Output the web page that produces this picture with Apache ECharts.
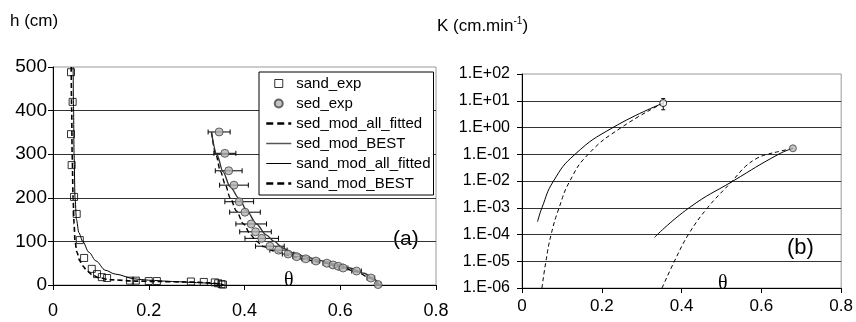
<!DOCTYPE html>
<html>
<head>
<meta charset="utf-8">
<script src="https://cdn.jsdelivr.net/npm/echarts@6/dist/echarts.min.js"></script>
<style>
html,body{margin:0;padding:0;background:#fff;}
#c{width:856px;height:322px;}
</style>
</head>
<body>
<div id="c"></div>
<script>
// ---- Panel (a): h vs theta ----
const sandTheta = [0.0376, 0.041, 0.0376, 0.039, 0.044, 0.0495, 0.056, 0.065, 0.081, 0.092, 0.102, 0.113, 0.161, 0.173, 0.200, 0.217, 0.288, 0.315, 0.338, 0.345, 0.352, 0.355];
const sandH     = [488, 420, 346, 275, 202, 163, 103, 62, 37, 25, 18, 16, 10, 10, 9, 9, 8, 7, 6, 4, 2, 1];

const sedTheta = [0.347, 0.359, 0.367, 0.378, 0.389, 0.401, 0.414, 0.423, 0.436, 0.453, 0.471, 0.491, 0.509, 0.528, 0.549, 0.572, 0.585, 0.596, 0.606, 0.634, 0.664, 0.679];
const sedH     = [351, 302, 262, 229, 191, 167, 140, 122, 107, 89, 80, 71, 65, 60, 55, 50, 46, 43, 39, 32, 16, 1];
const sedErr   = [0.023, 0.023, 0.028, 0.030, 0.030, 0.032, 0.032, 0.033, 0.035, 0.030, 0.018, 0.012, 0.008, 0.008, 0.008, 0.008, 0.008, 0.010, 0.010, 0.010, 0.008, 0.005];

const sedAllTheta  = [0.331, 0.340, 0.350, 0.360, 0.370, 0.383, 0.398, 0.413, 0.425, 0.440, 0.460, 0.490, 0.520, 0.560, 0.600, 0.635, 0.660, 0.680];
const sedAllH      = [350, 300, 260, 230, 200, 170, 140, 115, 100, 88, 78, 68, 60, 52, 42, 30, 17, 0];
const sedBestTheta = [0.331, 0.342, 0.355, 0.370, 0.389, 0.405, 0.425, 0.445, 0.462, 0.480, 0.500, 0.530, 0.560, 0.590, 0.620, 0.650, 0.670, 0.682];
const sedBestH     = [350, 300, 260, 225, 198, 170, 140, 115, 100, 85, 74, 64, 56, 48, 39, 27, 14, 0];

const sandAllTheta  = [0.042, 0.043, 0.044, 0.046, 0.049, 0.054, 0.062, 0.075, 0.090, 0.109, 0.130, 0.171, 0.200, 0.250, 0.300, 0.345, 0.358];
const sandAllH      = [500, 400, 300, 200, 150, 120, 100, 75, 55, 34, 25, 14, 11, 8, 5.5, 3, 0];
const sandBestTheta = [0.038, 0.039, 0.040, 0.042, 0.044, 0.046, 0.050, 0.056, 0.062, 0.070, 0.081, 0.095, 0.119, 0.171, 0.220, 0.280, 0.330, 0.350, 0.355];
const sandBestH     = [500, 400, 300, 200, 140, 100, 75, 55, 44, 34, 24, 17, 12, 9, 8, 7, 5, 2, 0];

const hTicks = [0, 100, 200, 300, 400, 500];
const thetaTicks = [0, 0.2, 0.4, 0.6, 0.8];

// ---- Panel (b): K vs theta ----
const kSandSolidTheta = [0.039, 0.050, 0.079, 0.133, 0.228, 0.354];
const kSandSolidK     = [3.0e-4, 1.0e-3, 1.0e-2, 1.0e-1, 1.0, 8.2];
const kSandDashTheta  = [0.050, 0.060, 0.073, 0.093, 0.120, 0.166, 0.249, 0.354];
const kSandDashK      = [1e-6, 1e-5, 1e-4, 1e-3, 1e-2, 1e-1, 1.0, 8.2];
const kSedSolidTheta  = [0.332, 0.419, 0.529, 0.643, 0.679];
const kSedSolidK      = [7.8e-5, 1.0e-3, 1.0e-2, 1.0e-1, 0.167];
const kSedDashTheta   = [0.351, 0.382, 0.417, 0.465, 0.527, 0.560, 0.589, 0.610, 0.643, 0.679];
const kSedDashK       = [1e-6, 1e-5, 1e-4, 1e-3, 1e-2, 3.5e-2, 7.1e-2, 9.5e-2, 0.126, 0.167];
const kSandEnd = [0.354, 8.2, 4.6, 12];   // theta, K, K low, K high
const kSedEnd  = [0.679, 0.167];
const kTickLabels = ['1.E-06', '1.E-05', '1.E-04', '1.E-03', '1.E-02', '1.E-01', '1.E+00', '1.E+01', '1.E+02'];

const zip = (a, b) => a.map((v, i) => [v, b[i]]);
const FONT = 'Liberation Sans, Arial, sans-serif';

function hErr(params, api) {
  const x = api.value(0), y = api.value(1), e = api.value(2);
  const p1 = api.coord([x - e, y]), p2 = api.coord([x + e, y]);
  const st = {stroke: '#000', lineWidth: 1};
  return {type: 'group', children: [
    {type: 'line', shape: {x1: p1[0], y1: p1[1], x2: p2[0], y2: p2[1]}, style: st},
    {type: 'line', shape: {x1: p1[0], y1: p1[1] - 2.5, x2: p1[0], y2: p1[1] + 2.5}, style: st},
    {type: 'line', shape: {x1: p2[0], y1: p2[1] - 2.5, x2: p2[0], y2: p2[1] + 2.5}, style: st}
  ]};
}
function vErr(params, api) {
  const x = api.value(0), lo = api.value(1), hi = api.value(2);
  const p1 = api.coord([x, lo]), p2 = api.coord([x, hi]);
  const st = {stroke: '#000', lineWidth: 1};
  return {type: 'group', children: [
    {type: 'line', shape: {x1: p1[0], y1: p1[1], x2: p2[0], y2: p2[1]}, style: st},
    {type: 'line', shape: {x1: p1[0] - 2, y1: p1[1], x2: p1[0] + 2, y2: p1[1]}, style: st},
    {type: 'line', shape: {x1: p2[0] - 2, y1: p2[1], x2: p2[0] + 2, y2: p2[1]}, style: st}
  ]};
}

const axisCommon = {
  axisLine: {show: true, lineStyle: {color: '#000', width: 1}},
  axisTick: {show: true, inside: false, length: 5, lineStyle: {color: '#000'}},
};
const noSym = {color: 'rgba(0,0,0,0)', borderColor: 'rgba(0,0,0,0)', borderWidth: 0};

const chart = echarts.init(document.getElementById('c'), null, {renderer: 'canvas'});
chart.setOption({
  animation: false,
  backgroundColor: '#fff',
  textStyle: {fontFamily: FONT},
  title: [
    {text: 'h (cm)', left: 5, top: 8, textStyle: {fontSize: 17, fontWeight: 'normal', color: '#000', fontFamily: FONT}},
    {text: 'K (cm.min{sup|-1})', left: 432, top: 11,
     textStyle: {fontSize: 17, fontWeight: 'normal', color: '#000', fontFamily: FONT, lineHeight: 20,
       rich: {sup: {fontSize: 10, verticalAlign: 'top', lineHeight: 20, fontFamily: FONT, color: '#000'}}}}
  ],
  legend: {
    left: 259, top: 72,
    orient: 'vertical',
    backgroundColor: '#fff', borderColor: '#000', borderWidth: 1,
    padding: [4, 3, 4, 6],
    itemWidth: 25, itemHeight: 8, itemGap: 5, itemTextGap: 3,
    textStyle: {fontSize: 15, color: '#000', fontFamily: FONT},
    data: [
      {name: 'sand_exp', icon: 'path://M0,0L10,0L10,10L0,10Z', itemStyle: {color: '#fff', borderColor: '#000', borderWidth: 1}},
      {name: 'sed_exp'},
      {name: 'sed_mod_all_fitted', lineStyle: {width: 2.5, type: [7, 4], color: '#000'}, itemStyle: noSym},
      {name: 'sed_mod_BEST', lineStyle: {width: 1.5, color: '#555'}, itemStyle: noSym},
      {name: 'sand_mod_all_fitted', lineStyle: {width: 1, color: '#000'}, itemStyle: noSym},
      {name: 'sand_mod_BEST', lineStyle: {width: 2.5, type: [7, 4], color: '#000'}, itemStyle: noSym}
    ]
  },
  grid: [
    {left: 53, top: 67, width: 383, height: 218, show: true, borderColor: '#999', borderWidth: 1, backgroundColor: 'transparent'},
    {left: 522, top: 74, width: 321, height: 214, show: true, borderColor: '#999', borderWidth: 1, backgroundColor: 'transparent'}
  ],
  xAxis: [
    Object.assign({gridIndex: 0, type: 'value', min: thetaTicks[0], max: thetaTicks[thetaTicks.length - 1], interval: 0.2,
      splitLine: {show: false},
      axisLabel: {fontSize: 18, color: '#000', margin: 17, fontFamily: FONT}}, axisCommon),
    Object.assign({gridIndex: 1, type: 'value', min: thetaTicks[0], max: thetaTicks[thetaTicks.length - 1], interval: 0.2,
      splitLine: {show: false},
      axisLabel: {fontSize: 17, color: '#000', margin: 10, fontFamily: FONT}}, axisCommon)
  ],
  yAxis: [
    Object.assign({gridIndex: 0, type: 'value', min: hTicks[0], max: hTicks[hTicks.length - 1], interval: 100,
      splitLine: {show: true, showMaxLine: false, showMinLine: false, lineStyle: {color: '#333', width: 1}},
      axisLabel: {fontSize: 19, color: '#000', margin: 6, fontFamily: FONT}}, axisCommon),
    Object.assign({gridIndex: 1, type: 'log', logBase: 10, min: 1e-6, max: 100, interval: 1,
      splitLine: {show: true, showMaxLine: false, showMinLine: false, lineStyle: {color: '#333', width: 1}},
      minorTick: {show: false},
      axisLabel: {fontSize: 16, color: '#000', margin: 12, fontFamily: FONT,
        formatter: v => kTickLabels[Math.round(Math.log10(v)) + 6]}}, axisCommon)
  ],
  graphic: [
    {type: 'text', left: 284, top: 271, style: {text: 'θ', font: '20px "Liberation Serif", serif', fill: '#000'}},
    {type: 'text', left: 393, top: 229, style: {text: '(a)', font: '21px ' + FONT, fill: '#000'}},
    {type: 'text', left: 718, top: 274, style: {text: 'θ', font: '20px "Liberation Serif", serif', fill: '#000'}},
    {type: 'text', left: 787, top: 237, style: {text: '(b)', font: '22px ' + FONT, fill: '#000'}}
  ],
  series: [
    {name: 'sed_err', type: 'custom', xAxisIndex: 0, yAxisIndex: 0, renderItem: hErr, z: 3,
     encode: {x: 0, y: 1}, data: sedTheta.map((t, i) => [t, sedH[i], sedErr[i]])},
    {name: 'sand_mod_all_fitted', type: 'line', xAxisIndex: 0, yAxisIndex: 0, symbol: 'none', smooth: 0.3, smoothMonotone: 'x', z: 4,
     itemStyle: {color: '#000'}, lineStyle: {color: '#000', width: 1}, data: zip(sandAllTheta, sandAllH)},
    {name: 'sand_mod_BEST', type: 'line', xAxisIndex: 0, yAxisIndex: 0, symbol: 'none', smooth: 0.3, smoothMonotone: 'x', z: 4,
     itemStyle: {color: '#000'}, lineStyle: {color: '#000', width: 1.6, type: [5, 3]}, data: zip(sandBestTheta, sandBestH)},
    {name: 'sed_mod_all_fitted', type: 'line', xAxisIndex: 0, yAxisIndex: 0, symbol: 'none', smooth: 0.3, smoothMonotone: 'x', z: 4,
     itemStyle: {color: '#000'}, lineStyle: {color: '#000', width: 1.4, type: [5, 3]}, data: zip(sedAllTheta, sedAllH)},
    {name: 'sed_mod_BEST', type: 'line', xAxisIndex: 0, yAxisIndex: 0, symbol: 'none', smooth: 0.3, smoothMonotone: 'x', z: 4,
     itemStyle: {color: '#333'}, lineStyle: {color: '#333', width: 1.4}, data: zip(sedBestTheta, sedBestH)},
    {name: 'sand_exp', type: 'scatter', xAxisIndex: 0, yAxisIndex: 0, symbol: 'rect', symbolSize: 7, z: 5,
     itemStyle: {color: 'rgba(255,255,255,0)', borderColor: '#000', borderWidth: 1}, data: zip(sandTheta, sandH)},
    {name: 'sed_exp', type: 'scatter', xAxisIndex: 0, yAxisIndex: 0, symbol: 'circle', symbolSize: 8, z: 5,
     itemStyle: {color: '#b4b4b4', borderColor: '#444', borderWidth: 1}, data: zip(sedTheta, sedH)},

    {name: 'K_sand_solid', type: 'line', xAxisIndex: 1, yAxisIndex: 1, symbol: 'none', smooth: 0.5,
     lineStyle: {color: '#000', width: 1}, data: zip(kSandSolidTheta, kSandSolidK)},
    {name: 'K_sand_dash', type: 'line', xAxisIndex: 1, yAxisIndex: 1, symbol: 'none', smooth: 0.5,
     lineStyle: {color: '#000', width: 1, type: [4, 3]}, data: zip(kSandDashTheta, kSandDashK)},
    {name: 'K_sed_solid', type: 'line', xAxisIndex: 1, yAxisIndex: 1, symbol: 'none', smooth: 0.5,
     lineStyle: {color: '#000', width: 1}, data: zip(kSedSolidTheta, kSedSolidK)},
    {name: 'K_sed_dash', type: 'line', xAxisIndex: 1, yAxisIndex: 1, symbol: 'none', smooth: 0.4,
     lineStyle: {color: '#000', width: 1, type: [4, 3]}, data: zip(kSedDashTheta, kSedDashK)},
    {name: 'K_sand_err', type: 'custom', xAxisIndex: 1, yAxisIndex: 1, renderItem: vErr, z: 3,
     encode: {x: 0, y: [1, 2]}, data: [[kSandEnd[0], kSandEnd[2], kSandEnd[3]]]},
    {name: 'K_sand_end', type: 'scatter', xAxisIndex: 1, yAxisIndex: 1, symbol: 'circle', symbolSize: 7, z: 5,
     itemStyle: {color: '#fff', borderColor: '#000', borderWidth: 1}, data: [[kSandEnd[0], kSandEnd[1]]]},
    {name: 'K_sed_end', type: 'scatter', xAxisIndex: 1, yAxisIndex: 1, symbol: 'circle', symbolSize: 7, z: 5,
     itemStyle: {color: '#b4b4b4', borderColor: '#444', borderWidth: 1}, data: [kSedEnd]}
  ]
});
</script>
</body>
</html>
